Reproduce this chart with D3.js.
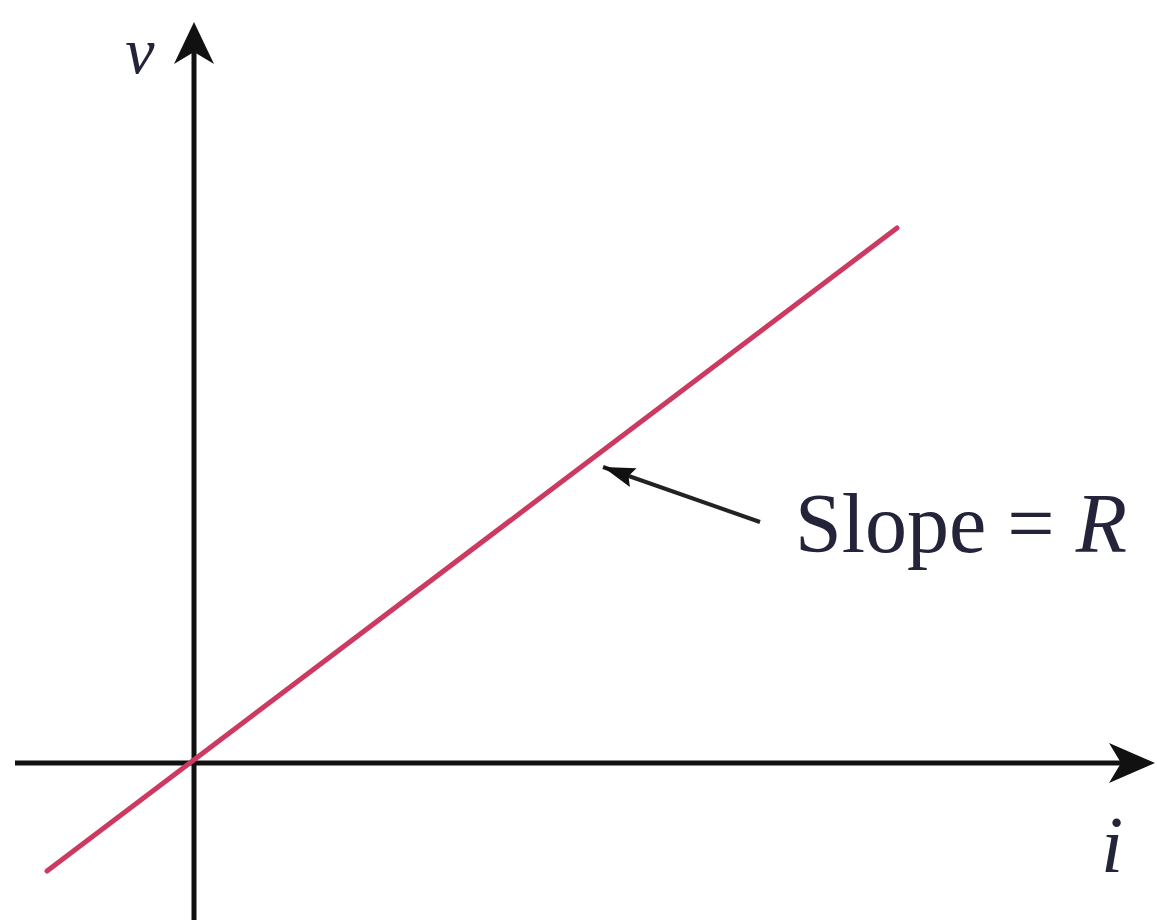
<!DOCTYPE html>
<html>
<head>
<meta charset="utf-8">
<script src="https://cdn.jsdelivr.net/npm/d3@7"></script>
<style>
  html, body { margin: 0; padding: 0; background: #fff; }
  svg { display: block; }
  .lbl { font-family: "Liberation Serif", "DejaVu Serif", serif; fill: #23233a; }
</style>
</head>
<body>
<svg id="chart" width="1157" height="923"></svg>
<script>
// axis extents (i, v units)
const iAxisRange = [-1.79, 9.61];
const vAxisRange = [-1.57, 7.41];

// the resistor line v = R i at its two ends
const linePoints = [
    {i: -1.47, v: -1.08},
    {i: 7.03, v: 5.35}
];

// annotation arrow: tail then tip
const notePoints = [
    {i: 5.66, v: 2.41},
    {i: 4.09, v: 2.96}
];
const noteAt = {i: 6.01, v: 2.11};
const noteText = ["Slope = ", "R"];

const axisLabels = [
    {name: "v", i: -0.54, v: 6.9, size: 66},
    {name: "i", i: 9.18, v: -1.09, size: 80}
];

const svg = d3.select('#chart');

// 1 unit = 100 px, origin where the axes cross
const x = d3.scaleLinear().domain([0, 1]).range([194, 294]);
const y = d3.scaleLinear().domain([0, 1]).range([763, 663]);

// axes
svg.append('line')
    .attr('x1', x(iAxisRange[0])).attr('x2', x(iAxisRange[1]) - 20)
    .attr('y1', y(0)).attr('y2', y(0))
    .attr('stroke', '#111').attr('stroke-width', 5);

svg.append('line')
    .attr('x1', x(0)).attr('x2', x(0))
    .attr('y1', y(vAxisRange[0])).attr('y2', y(vAxisRange[1]) + 20)
    .attr('stroke', '#111').attr('stroke-width', 5);

// arrowheads, drawn pointing right then rotated
function arrowHead(px, py, angle, len, half, notch) {
    svg.append('path')
        .attr('d', `M0,0 L${-len},${-half} L${-len + notch},0 L${-len},${half} Z`)
        .attr('transform', `translate(${px},${py}) rotate(${angle})`)
        .attr('fill', '#111');
}
arrowHead(x(iAxisRange[1]), y(0), 0, 46, 20, 12);
arrowHead(x(0), y(vAxisRange[1]), -90, 42, 20, 12);

// the line
const makeLine = d3.line().x(d => x(d.i)).y(d => y(d.v));
svg.append('path')
    .datum(linePoints)
    .attr('d', makeLine)
    .attr('fill', 'none')
    .attr('stroke', '#cc3a62')
    .attr('stroke-width', 5)
    .attr('stroke-linecap', 'round');

// annotation arrow
const tail = notePoints[0], tip = notePoints[1];
const ang = Math.atan2(y(tip.v) - y(tail.v), x(tip.i) - x(tail.i)) * 180 / Math.PI;
svg.append('path')
    .datum(notePoints)
    .attr('d', makeLine)
    .attr('stroke', '#222')
    .attr('stroke-width', 4);
arrowHead(x(tip.i), y(tip.v), ang, 32, 10, 5);

// text
const t = svg.append('text')
    .attr('class', 'lbl')
    .attr('x', x(noteAt.i))
    .attr('y', y(noteAt.v))
    .attr('font-size', 84);
t.append('tspan').text(noteText[0]);
t.append('tspan').attr('font-style', 'italic').text(noteText[1]);

svg.selectAll('.axlbl')
    .data(axisLabels)
    .enter().append('text')
    .attr('class', 'lbl axlbl')
    .attr('x', d => x(d.i))
    .attr('y', d => y(d.v))
    .attr('text-anchor', 'middle')
    .attr('font-size', d => d.size)
    .attr('font-style', 'italic')
    .text(d => d.name);
</script>
</body>
</html>
